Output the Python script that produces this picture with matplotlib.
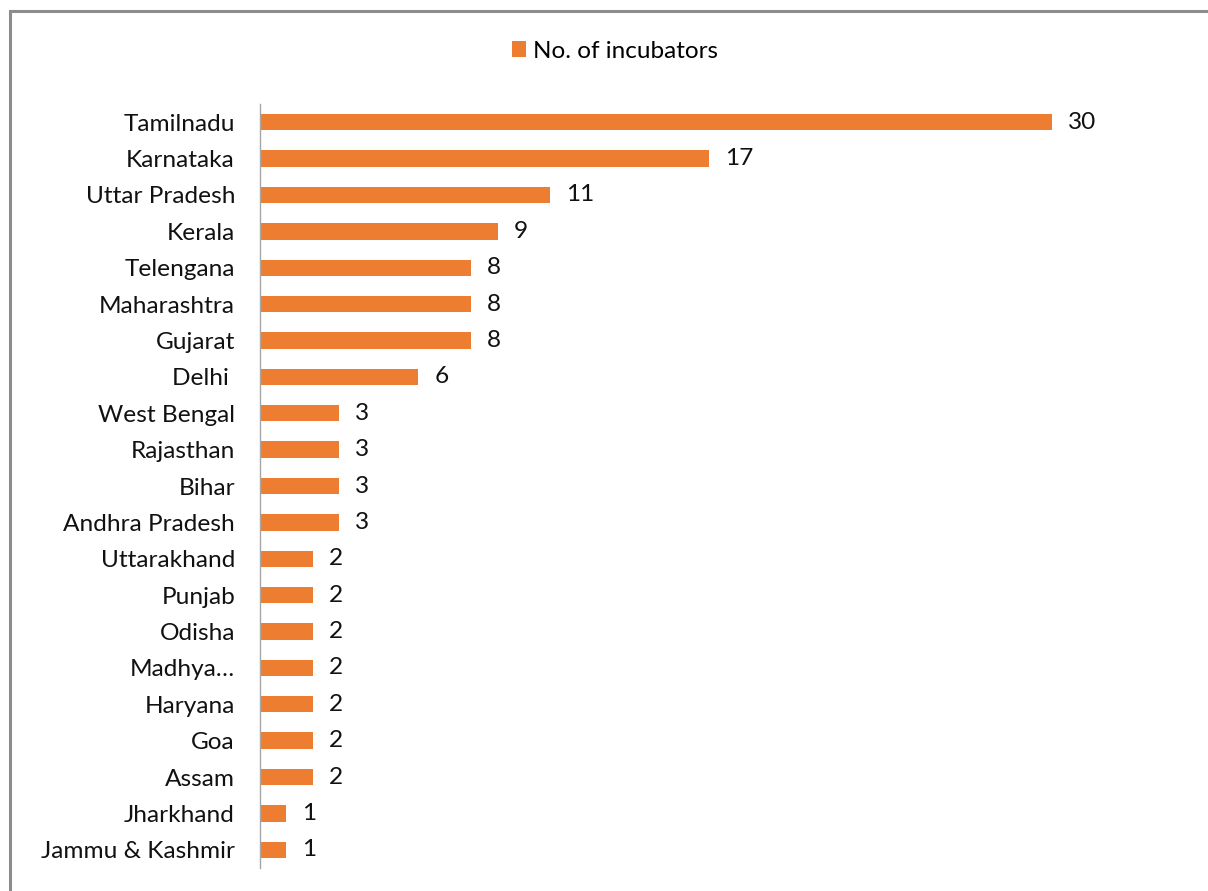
import matplotlib.pyplot as plt
from matplotlib.patches import Rectangle

states = ['Tamilnadu', 'Karnataka', 'Uttar Pradesh', 'Kerala', 'Telengana',
          'Maharashtra', 'Gujarat', 'Delhi ', 'West Bengal', 'Rajasthan', 'Bihar',
          'Andhra Pradesh', 'Uttarakhand', 'Punjab', 'Odisha', 'Madhya…',
          'Haryana', 'Goa', 'Assam', 'Jharkhand', 'Jammu & Kashmir']
incubators = [30, 17, 11, 9, 8, 8, 8, 6, 3, 3, 3, 3, 2, 2, 2, 2, 2, 2, 2, 1, 1]

plt.rcParams['font.family'] = ['Lato', 'DejaVu Sans']
bar_color = '#ED7D31'
fs = 17.6

fig = plt.figure(figsize=(12.08, 8.91), dpi=100)
W, H = 1208, 891

# outer chart border (runs off right/bottom edge)
fig.patches.append(Rectangle((10 / W, -0.1), 1.2, 1 - 11 / H + 0.1,
                             transform=fig.transFigure, fill=False,
                             edgecolor='#8c8c8c', linewidth=2.2))

ax = fig.add_axes([260 / W, 1 - 868 / H, 924 / W, 764 / H])
ypos = list(range(len(states)))
bars = ax.barh(ypos, incubators, height=0.45, color=bar_color,
               label='No. of incubators')
ax.set_ylim(len(states) - 0.5, -0.5)
ax.set_xlim(0, 35)
ax.set_yticks(ypos)
ax.set_yticklabels(states, fontsize=fs, color='#111111')
ax.tick_params(axis='y', length=0, pad=18)
ax.set_xticks([])
for side in ['top', 'right', 'bottom']:
    ax.spines[side].set_visible(False)
ax.spines['left'].set_color('#a6a6a6')
ax.spines['left'].set_linewidth(1.0)

for b, v in zip(bars, incubators):
    ax.annotate(str(v), (b.get_width(), b.get_y() + b.get_height() / 2),
                xytext=(16, 0), textcoords='offset pixels',
                va='center', ha='left', fontsize=fs, color='#111111')

fig.legend(handles=[bars], labels=['No. of incubators'], loc='center',
           bbox_to_anchor=(615 / W, 1 - 51 / H), frameon=False, fontsize=17.5,
           handlelength=0.6, handleheight=0.6, handletextpad=0.3)

fig.savefig('out.png', dpi=100)
